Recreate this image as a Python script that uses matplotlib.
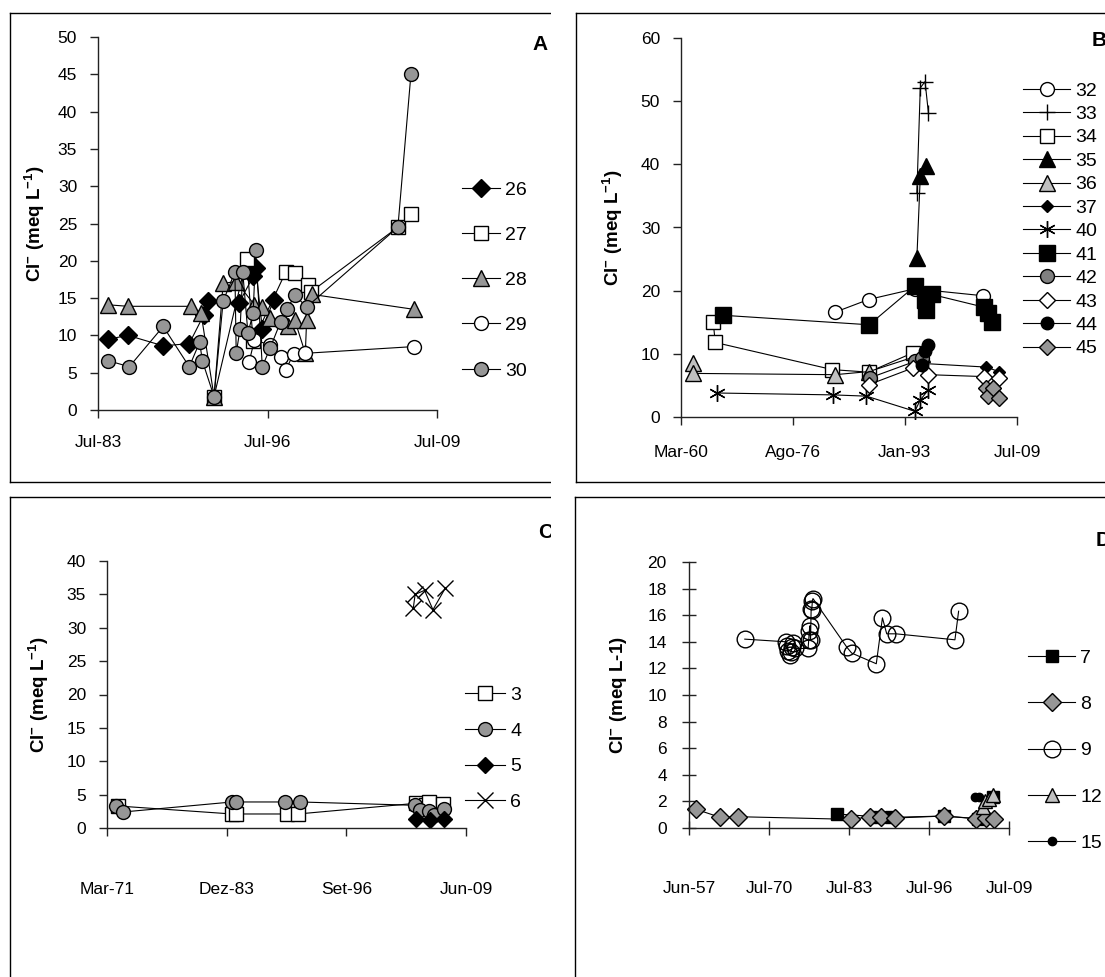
import matplotlib
matplotlib.use("Agg")
import matplotlib.pyplot as plt
from matplotlib.patches import Rectangle
from matplotlib.lines import Line2D

plt.rcParams["font.family"] = "Liberation Sans"
plt.rcParams["mathtext.fontset"] = "custom"
plt.rcParams["mathtext.rm"] = "Liberation Sans:bold"
plt.rcParams["mathtext.bf"] = "Liberation Sans:bold"
plt.rcParams["mathtext.it"] = "Liberation Sans:bold"

W, H = 1105, 977

# ---------------- data (decimal years, Cl- meq/L) ----------------
# panel A
yrs26 = [1984.3, 1985.8, 1988.5, 1990.5, 1991.6, 1991.9, 1994.3, 1995.4, 1995.6, 1996.1, 1997.0]
cl26 = [9.5, 10.0, 8.6, 8.9, 12.7, 14.6, 14.3, 17.9, 19.0, 10.9, 14.8]
yrs27 = [1992.4, 1994.9, 1995.4, 1997.9, 1998.6, 1999.6, 1999.8, 2006.5, 2007.5]
cl27 = [1.8, 20.3, 9.2, 18.5, 18.3, 16.7, 15.8, 24.5, 26.3]
yrs28 = [1984.3, 1985.8, 1990.6, 1991.4, 1992.4, 1993.1, 1994.1, 1995.5, 1996.1, 1996.7,
         1998.1, 1998.6, 1999.4, 1999.5, 1999.9, 2007.7]
cl28 = [14.1, 13.9, 13.9, 13.0, 1.8, 17.0, 17.2, 14.1, 13.8, 12.3, 11.2, 12.0, 7.6, 12.0, 15.5, 13.5]
yrs29 = [1995.1, 1995.5, 1996.7, 1997.5, 1997.9, 1998.5, 1999.4, 2007.7]
cl29 = [6.5, 9.4, 8.7, 7.1, 5.4, 7.5, 7.6, 8.5]
yrs30 = [1984.3, 1985.9, 1988.5, 1990.5, 1991.3, 1991.5, 1992.4, 1993.1, 1994.0, 1994.1, 1994.4,
         1994.6, 1995.0, 1995.4, 1995.6, 1996.1, 1996.7, 1997.5, 1998.0, 1998.6, 1999.5, 2006.5, 2007.5]
cl30 = [6.6, 5.8, 11.2, 5.8, 9.1, 6.6, 1.8, 14.6, 18.5, 7.6, 10.9, 18.5, 10.3, 13.0, 21.4, 5.8,
        8.3, 11.8, 13.5, 15.4, 13.8, 24.5, 45.0]

# panel B
yrs32 = [1982.8, 1987.7, 1994.5, 2004.5]
cl32 = [16.6, 18.6, 20.3, 19.2]
yrs33 = [1994.8, 1995.3, 1996.0, 1996.5]
cl33 = [35.5, 52.1, 53.1, 48.1]
yrs34 = [1964.9, 1965.2, 1982.4, 1987.7, 1994.3]
cl34 = [15.0, 11.8, 7.5, 7.1, 10.2]
yrs35 = [1994.8, 1995.3, 1996.2]
cl35 = [25.2, 38.1, 39.8]
yrs36 = [1961.9, 1962.0, 1982.8, 1987.8, 1995.5]
cl36 = [8.5, 6.9, 6.7, 7.2, 9.9]
yrs37 = [1995.3, 2005.0, 2006.8]
cl37 = [8.5, 7.9, 7.2]
yrs40 = [1965.4, 1982.5, 1987.4, 1994.5, 1995.3, 1996.5]
cl40 = [3.8, 3.5, 3.3, 0.9, 2.7, 4.3]
yrs41 = [1966.4, 1987.8, 1994.5, 1996.0, 1996.2, 1997.0, 2004.6, 2005.3, 2005.8]
cl41 = [16.1, 14.6, 20.7, 18.6, 17.0, 19.4, 17.4, 16.5, 15.1]
yrs42 = [1987.9, 1994.5, 1995.5]
cl42 = [6.2, 8.8, 9.3]
yrs43 = [1987.7, 1994.3, 1996.5, 2004.6, 2006.8]
cl43 = [5.1, 7.8, 6.7, 6.4, 6.2]
yrs44 = [1995.5, 1996.0, 1996.5]
cl44 = [8.3, 10.4, 11.45]
yrs45 = [2005.0, 2005.3, 2006.0, 2006.9]
cl45 = [4.6, 3.3, 4.6, 3.0]

# panel C
yrs3 = [1972.3, 1984.5, 1984.9, 1990.3, 1991.5, 2004.1, 2005.2, 2005.5, 2007.0]
cl3 = [3.3, 2.1, 2.1, 2.1, 2.1, 3.7, 3.5, 3.9, 3.6]
yrs4 = [1972.1, 1972.9, 1984.5, 1984.9, 1990.1, 1991.7, 2004.0, 2004.5, 2005.5, 2006.0, 2007.1]
cl4 = [3.3, 2.4, 3.9, 3.9, 3.9, 3.9, 3.4, 2.7, 2.5, 2.0, 2.8]
yrs5 = [2004.1, 2005.6, 2007.1]
cl5 = [1.3, 1.2, 1.3]
yrs6 = [2003.8, 2004.0, 2005.0, 2005.9, 2007.2]
cl6 = [32.9, 35.0, 35.6, 32.7, 35.9]

# panel D
yrs7 = [1981.5, 1988.0, 1990.3, 1998.9, 2004.5, 2006.9]
cl7 = [1.05, 0.85, 0.8, 0.9, 0.7, 2.3]
yrs8 = [1958.6, 1962.5, 1965.4, 1983.8, 1986.9, 1988.6, 1990.9, 1998.9, 2004.1, 2005.8, 2007.0]
cl8 = [1.4, 0.8, 0.85, 0.65, 0.85, 0.85, 0.75, 0.9, 0.7, 0.75, 0.7]
yrs9 = [1966.5, 1973.2, 1973.4, 1973.6, 1973.8, 1974.0, 1974.2, 1974.4, 1974.6,
        1976.8, 1976.9, 1977.0, 1977.1, 1977.2, 1977.3, 1977.4, 1977.5, 1977.6,
        1983.1, 1983.9, 1987.9, 1988.9, 1989.6, 1991.1, 2000.7, 2001.3]
cl9 = [14.2, 14.0, 13.7, 13.3, 13.0, 13.2, 13.6, 13.9, 13.5,
       13.5, 14.1, 14.8, 15.2, 14.1, 16.5, 16.4, 17.1, 17.25,
       13.6, 13.15, 12.35, 15.8, 14.6, 14.6, 14.15, 16.3]
yrs12 = [2005.2, 2005.6, 2006.3, 2006.9]
cl12 = [1.6, 2.0, 2.2, 2.5]
yrs15 = [2004.0, 2004.6]
cl15 = [2.3, 2.3]

# axis ticks
ticksA = [1983.5, 1996.5, 2009.5]
labelsA = ["Jul-83", "Jul-96", "Jul-09"]
ticksB = [1960.17, 1976.58, 1993.0, 2009.5]
labelsB = ["Mar-60", "Ago-76", "Jan-93", "Jul-09"]
ticksC = [1971.17, 1983.92, 1996.67, 2009.42]
labelsC = ["Mar-71", "Dez-83", "Set-96", "Jun-09"]
ticksD = [1957.42, 1970.5, 1983.5, 1996.5, 2009.5]
labelsD = ["Jun-57", "Jul-70", "Jul-83", "Jul-96", "Jul-09"]

GRAY = "#969696"
LGRAY = "#c0c0c0"
DGRAY = "#808080"


def fx(x):
    return x / W


def fy(y):
    return 1 - y / H


def make_ax(fig, left, right, top, bottom):
    return fig.add_axes([fx(left), fy(bottom), (right - left) / W, (bottom - top) / H])


def series(ax, x, y, marker, face, ms, label, mew=1.0):
    ax.plot(x, y, color="black", lw=0.8, marker=marker, ms=ms, mfc=face,
            mec="black", mew=mew, label=label, clip_on=False)


def style(ax, xticks, xlabels, ylim, ystep, tdir, xpad, ypad):
    ax.set_xlim(xticks[0], xticks[-1])
    ax.set_ylim(0, ylim)
    ax.set_xticks(xticks)
    ax.set_xticklabels(xlabels)
    ax.set_yticks(range(0, ylim + 1, ystep))
    for s in ["top", "right"]:
        ax.spines[s].set_visible(False)
    for s in ["left", "bottom"]:
        ax.spines[s].set_color("#222222")
        ax.spines[s].set_linewidth(1)
    ln = 10 if tdir == "inout" else 6
    ax.tick_params(axis="x", direction=tdir, length=ln, width=1, pad=xpad, labelsize=12.5,
                   color="#222222")
    ax.tick_params(axis="y", direction=tdir, length=ln, width=1, pad=ypad, labelsize=12.5,
                   color="#222222")


def legend(ax, top, left, spacing, hl):
    ax.legend(loc="upper left", bbox_to_anchor=(fx(left), fy(top)),
              bbox_transform=fig.transFigure, frameon=False, fontsize=14,
              borderpad=0, borderaxespad=0, labelspacing=spacing,
              handlelength=hl, handletextpad=0.26)


def frame_line(x0, y0, x1, y1):
    fig.add_artist(Line2D([fx(x0), fx(x1)], [fy(y0), fy(y1)], transform=fig.transFigure,
                          color="black", lw=1, zorder=5))


fig = plt.figure(figsize=(W / 100, H / 100), dpi=100)

ylab = r"Cl$^{-}$ (meq L$^{-1}$)"

# ---------------- A ----------------
ax = make_ax(fig, 98, 437, 37, 410)
series(ax, yrs26, cl26, "D", "black", 9, "26")
series(ax, yrs27, cl27, "s", "white", 10, "27")
series(ax, yrs28, cl28, "^", GRAY, 11, "28")
series(ax, yrs29, cl29, "o", "white", 10, "29")
series(ax, yrs30, cl30, "o", GRAY, 10, "30")
style(ax, ticksA, labelsA, 50, 5, "out", 12, 9)
ax.set_ylabel(ylab, fontsize=13.5, fontweight="bold")
ax.yaxis.set_label_coords(-0.15, 0.5)
legend(ax, 181, 462, 1.42, 1.96)

# ---------------- B ----------------
ax = make_ax(fig, 681, 1017, 38, 417)
series(ax, yrs32, cl32, "o", "white", 10, "32")
series(ax, yrs33, cl33, "+", "none", 12, "33")
series(ax, yrs34, cl34, "s", "white", 10, "34")
series(ax, yrs35, cl35, "^", "black", 11, "35")
series(ax, yrs36, cl36, "^", LGRAY, 11, "36")
series(ax, yrs37, cl37, "D", "black", 6, "37")
series(ax, yrs40, cl40, (6, 2, 0), "none", 12, "40")
series(ax, yrs41, cl41, "s", "black", 11, "41")
series(ax, yrs42, cl42, "o", DGRAY, 10, "42")
series(ax, yrs43, cl43, "D", "white", 8, "43")
series(ax, yrs44, cl44, "o", "black", 9, "44")
series(ax, yrs45, cl45, "D", GRAY, 8, "45")
style(ax, ticksB, labelsB, 60, 10, "out", 14, 9)
ax.set_ylabel(ylab, fontsize=13.5, fontweight="bold")
ax.yaxis.set_label_coords(-0.168, 0.5)
legend(ax, 82, 1023, 0.3, 2.42)

# ---------------- C ----------------
ax = make_ax(fig, 107, 466, 561, 828)
series(ax, yrs3, cl3, "s", "white", 10, "3")
series(ax, yrs4, cl4, "o", GRAY, 10, "4")
series(ax, yrs5, cl5, "D", "black", 8, "5")
series(ax, yrs6, cl6, "x", "none", 11, "6")
style(ax, ticksC, labelsC, 40, 5, "out", 33, 9)
ax.set_ylabel(ylab, fontsize=13.5, fontweight="bold")
ax.yaxis.set_label_coords(-0.156, 0.5)
legend(ax, 686, 465, 0.94, 2.06)

# ---------------- D ----------------
ax = make_ax(fig, 689, 1009, 562, 828)
series(ax, yrs7, cl7, "s", "black", 9, "7")
series(ax, yrs8, cl8, "D", GRAY, 9, "8")
series(ax, yrs9, cl9, "o", "none", 12, "9")
series(ax, yrs12, cl12, "^", LGRAY, 10, "12")
series(ax, yrs15, cl15, "o", "black", 6, "15")
style(ax, ticksD, labelsD, 20, 2, "inout", 33, 11)
ax.set_ylabel(r"Cl$^{-}$ (meq L-1)", fontsize=13.5, fontweight="bold")
ax.yaxis.set_label_coords(-0.188, 0.5)
legend(ax, 649, 1028, 1.48, 2.42)

# ---------------- panel frames (cropped on the right), letters ----------------
frame_line(10, 13, 560, 13)
frame_line(10, 13, 10, 482)
frame_line(10, 482, 560, 482)
frame_line(576, 13, 1105, 13)
frame_line(576, 13, 576, 482)
frame_line(576, 482, 1105, 482)
frame_line(10, 497, 560, 497)
frame_line(10, 497, 10, 977)
frame_line(575, 497, 1105, 497)
frame_line(575, 497, 575, 977)

for letter, x, y in [("A", 532, 45), ("B", 1092, 40), ("C", 538, 533), ("D", 1096, 540)]:
    fig.text(fx(x), fy(y), letter, fontsize=15, fontweight="bold", va="center", ha="left")

fig.add_artist(Rectangle((fx(551), 0), 23 / W, 1, transform=fig.transFigure,
                         facecolor="white", edgecolor="none", zorder=100))

fig.savefig("out.png", dpi=100, facecolor="white")
